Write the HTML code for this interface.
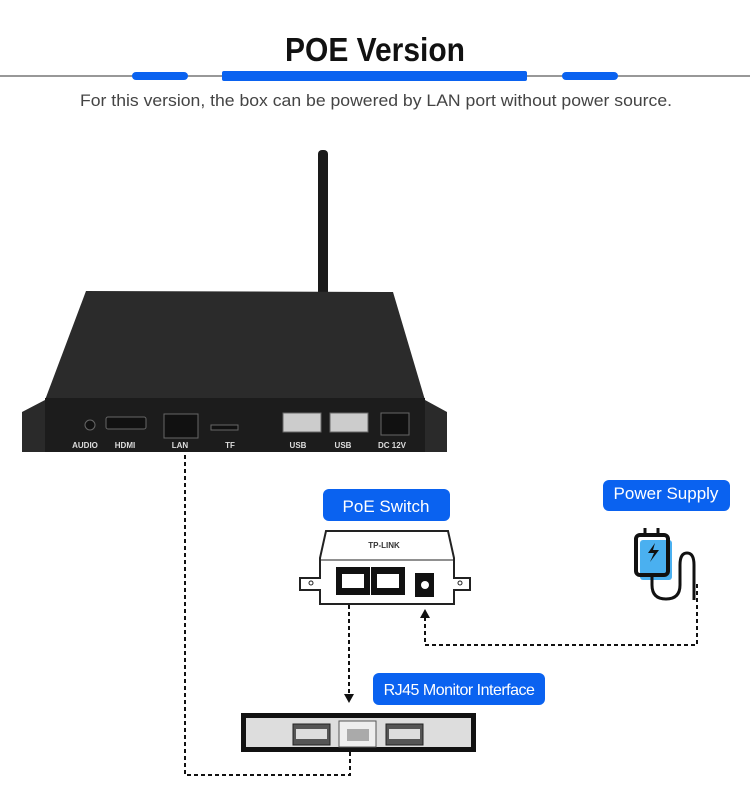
<!DOCTYPE html>
<html><head><style>
body{margin:0;background:#fff;width:750px;height:797px;overflow:hidden;font-family:"Liberation Sans",sans-serif}
</style></head><body>
<svg width="750" height="797" viewBox="0 0 750 797" xmlns="http://www.w3.org/2000/svg">
<text x="285" y="61" textLength="180" lengthAdjust="spacingAndGlyphs" font-family="Liberation Sans" font-weight="bold" font-size="33" fill="#111">POE Version</text>
<line x1="0" y1="76" x2="750" y2="76" stroke="#777" stroke-width="1.5"/>
<rect x="132" y="72" width="56" height="8" rx="4" fill="#0a62f0"/>
<rect x="222" y="71" width="305" height="10" rx="2" fill="#0a62f0"/>
<rect x="562" y="72" width="56" height="8" rx="4" fill="#0a62f0"/>
<text x="80" y="106" textLength="592" lengthAdjust="spacingAndGlyphs" font-size="17" fill="#444">For this version, the box can be powered by LAN port without power source.</text>

<!-- device -->
<rect x="318" y="150" width="10" height="150" rx="4" fill="#1a1a1a"/>
<polygon points="22,412 45,400 45,452 22,452" fill="#2a2a2a"/>
<polygon points="447,412 425,400 425,452 447,452" fill="#2a2a2a"/>
<polygon points="86,291 393,292 425,400 45,400" fill="#2b2b2b"/>
<rect x="45" y="398" width="380" height="54" fill="#1c1c1c"/>
<g fill="#111" stroke="#666" stroke-width="1">
<circle cx="90" cy="425" r="5"/>
<rect x="106" y="417" width="40" height="12" rx="2"/>
<rect x="164" y="414" width="34" height="24"/>
<rect x="211" y="425" width="27" height="5"/>
<rect x="283" y="413" width="38" height="19" fill="#ccc"/>
<rect x="330" y="413" width="38" height="19" fill="#ccc"/>
<rect x="381" y="413" width="28" height="22"/>
</g>
<g fill="#ddd" font-size="8" font-weight="bold" text-anchor="middle">
<text x="85" y="448">AUDIO</text><text x="125" y="448">HDMI</text><text x="180" y="448">LAN</text>
<text x="230" y="448">TF</text><text x="298" y="448">USB</text><text x="343" y="448">USB</text><text x="392" y="448">DC 12V</text>
</g>

<!-- connectors -->
<g fill="none" stroke="#111" stroke-width="2" stroke-dasharray="4,3">
<polyline points="185,455 185,775 350,775 350,752"/>
<line x1="349" y1="605" x2="349" y2="694"/>
<polyline points="697,584 697,645 425,645 425,618"/>
</g>
<polygon points="344,694 354,694 349,703" fill="#111"/>
<polygon points="420,618 430,618 425,609" fill="#111"/>

<!-- labels -->
<rect x="323" y="489" width="127" height="32" rx="6" fill="#0a62f0"/>
<text x="386" y="512" text-anchor="middle" font-size="17" fill="#fff">PoE Switch</text>
<rect x="603" y="480" width="127" height="31" rx="6" fill="#0a62f0"/>
<text x="666" y="499" text-anchor="middle" font-size="17" fill="#fff">Power Supply</text>
<rect x="373" y="673" width="172" height="32" rx="6" fill="#0a62f0"/>
<text x="459" y="695" text-anchor="middle" font-size="16" fill="#fff" letter-spacing="-0.5">RJ45 Monitor Interface</text>

<!-- poe switch -->
<path d="M300,578 h20 v-20 l6,-27 h122 l6,27 v20 h16 v12 h-16 v14 h-134 v-14 h-20 z" fill="#fff" stroke="#222" stroke-width="2"/>
<line x1="320" y1="560" x2="454" y2="560" stroke="#222" stroke-width="1"/>
<text x="384" y="548" text-anchor="middle" font-size="8" font-weight="bold" fill="#333">TP-LINK</text>
<rect x="336" y="567" width="34" height="28" fill="#111"/><rect x="371" y="567" width="34" height="28" fill="#111"/>
<rect x="342" y="574" width="22" height="14" fill="#fff"/><rect x="377" y="574" width="22" height="14" fill="#fff"/>
<rect x="415" y="573" width="19" height="24" fill="#111"/><circle cx="425" cy="585" r="4" fill="#fff"/>
<circle cx="311" cy="583" r="2" fill="none" stroke="#222"/><circle cx="460" cy="583" r="2" fill="none" stroke="#222"/>

<!-- plug -->
<rect x="640" y="540" width="32" height="40" rx="3" fill="#4ab0f0"/>
<rect x="636" y="535" width="32" height="40" rx="4" fill="none" stroke="#111" stroke-width="4"/>
<line x1="645" y1="528" x2="645" y2="536" stroke="#111" stroke-width="3"/><line x1="658" y1="528" x2="658" y2="536" stroke="#111" stroke-width="3"/>
<path d="M655,543 l-7,10 h6 l-4,9 l9,-12 h-6 z" fill="#111"/>
<path d="M652,575 v10 q0,14 14,14 q14,0 14,-14 v-20 q0,-12 7,-12 q7,0 7,12 v35" fill="none" stroke="#111" stroke-width="3"/>

<!-- monitor -->
<rect x="241" y="713" width="235" height="39" fill="#111"/>
<rect x="246" y="718" width="225" height="29" fill="#ddd"/>
<rect x="293" y="724" width="37" height="21" fill="#555" stroke="#222"/><rect x="296" y="729" width="31" height="10" fill="#ddd"/>
<rect x="339" y="721" width="37" height="26" fill="#eee" stroke="#555"/><rect x="347" y="729" width="22" height="12" fill="#aaa"/>
<rect x="386" y="724" width="37" height="21" fill="#555" stroke="#222"/><rect x="389" y="729" width="31" height="10" fill="#ddd"/>
</svg>
</body></html>
